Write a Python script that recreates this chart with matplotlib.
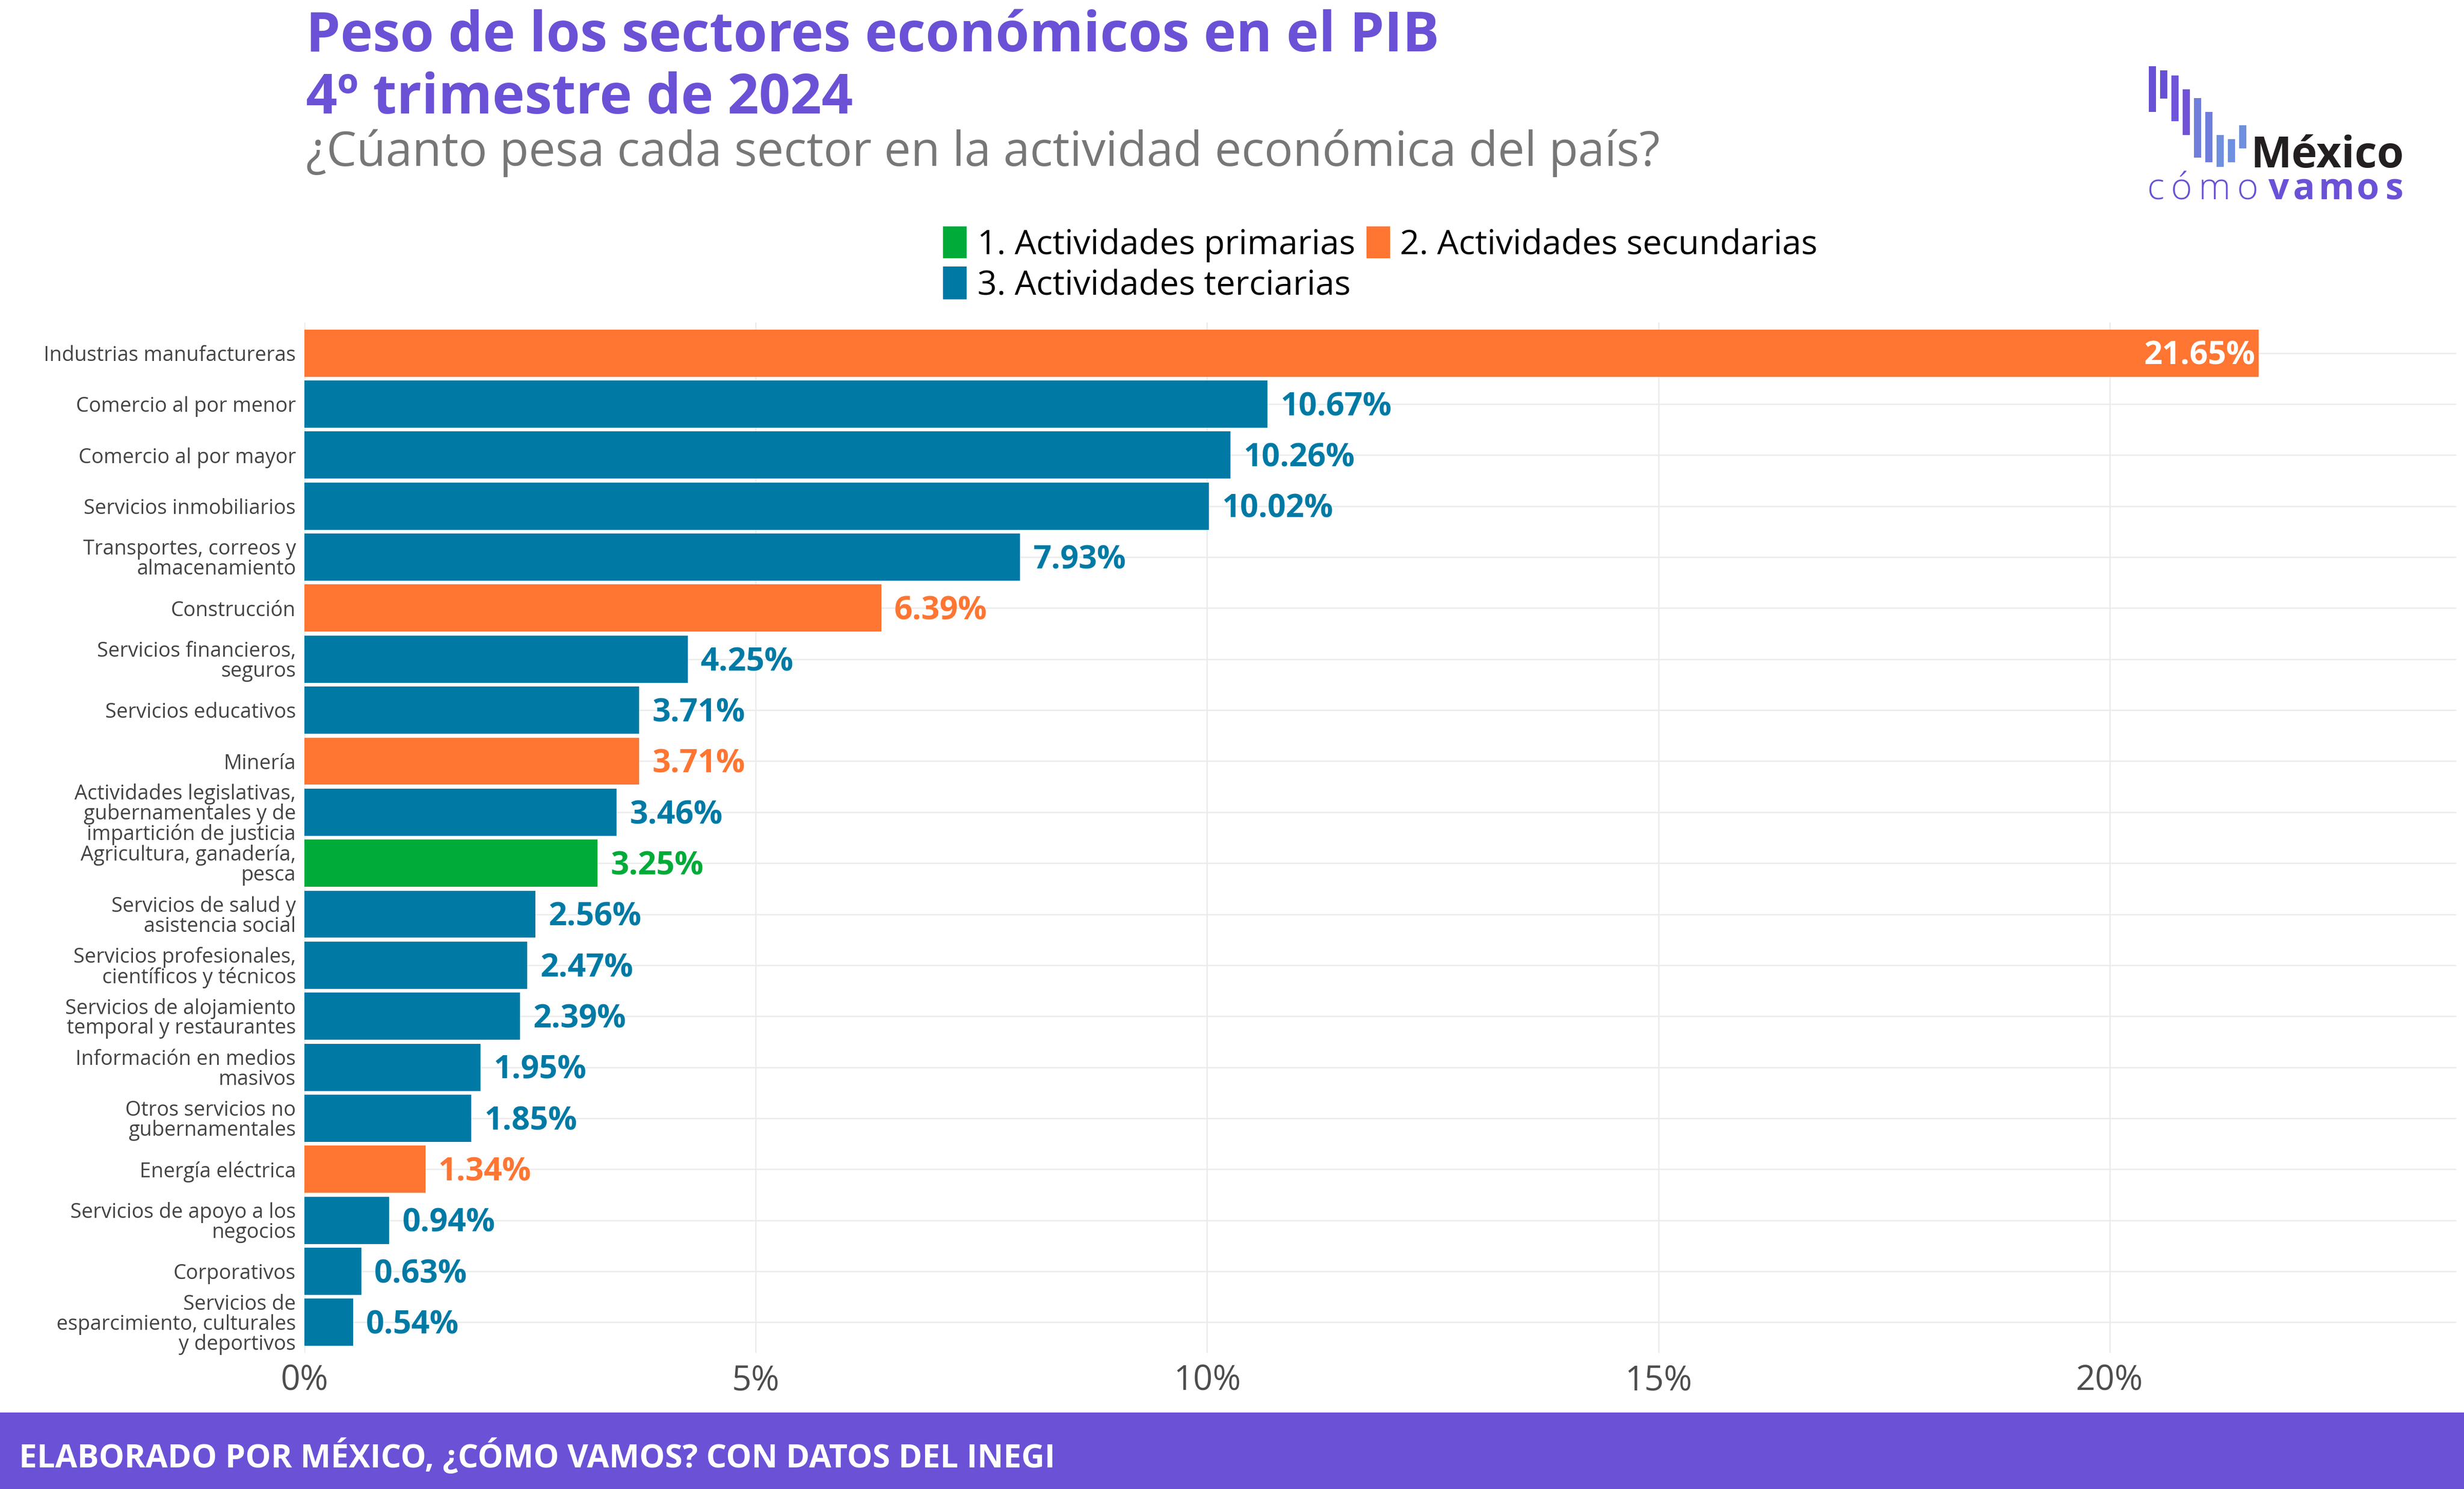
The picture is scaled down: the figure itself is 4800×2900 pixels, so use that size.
import matplotlib
matplotlib.use("Agg")
import matplotlib.pyplot as plt
from matplotlib import font_manager
from matplotlib.patches import Rectangle

# ---------------- data ----------------
sectores = [
    "Industrias manufactureras",
    "Comercio al por menor",
    "Comercio al por mayor",
    "Servicios inmobiliarios",
    "Transportes, correos y\nalmacenamiento",
    "Construcción",
    "Servicios financieros,\nseguros",
    "Servicios educativos",
    "Minería",
    "Actividades legislativas,\ngubernamentales y de\nimpartición de justicia",
    "Agricultura, ganadería,\npesca",
    "Servicios de salud y\nasistencia social",
    "Servicios profesionales,\ncientíficos y técnicos",
    "Servicios de alojamiento\ntemporal y restaurantes",
    "Información en medios\nmasivos",
    "Otros servicios no\ngubernamentales",
    "Energía eléctrica",
    "Servicios de apoyo a los\nnegocios",
    "Corporativos",
    "Servicios de\nesparcimiento, culturales\ny deportivos",
]
pesos = [21.65, 10.67, 10.26, 10.02, 7.93, 6.39, 4.25, 3.71, 3.71, 3.46,
         3.25, 2.56, 2.47, 2.39, 1.95, 1.85, 1.34, 0.94, 0.63, 0.54]
tipo = [2, 3, 3, 3, 3, 2, 3, 3, 2, 3, 1, 3, 3, 3, 3, 3, 2, 3, 3, 3]
grupos = ["1. Actividades primarias", "2. Actividades secundarias",
          "3. Actividades terciarias"]
xticks = [0, 5, 10, 15, 20]
xticklabels = ["0%", "5%", "10%", "15%", "20%"]

titulo1 = "Peso de los sectores económicos en el PIB"
titulo2 = "4º trimestre de 2024"
subtitulo = "¿Cúanto pesa cada sector en la actividad económica del país?"
pie = "ELABORADO POR MÉXICO, ¿CÓMO VAMOS? CON DATOS DEL INEGI"

# ---------------- style ----------------
colores = {1: "#00AB39", 2: "#FF7532", 3: "#007AA5"}
PURPLE = "#6B51D6"
plt.rcParams["font.family"] = ["Open Sans", "DejaVu Sans"]

W, H = 4800, 2900
fig = plt.figure(figsize=(16, 9.6667), dpi=300)
renderer = fig.canvas.get_renderer()


def fx(px):
    return px / W


def fy(py):
    return 1 - py / H


def fit(t, target_px):
    w = t.get_window_extent(renderer).width
    if w > 0:
        t.set_fontsize(t.get_fontsize() * target_px / w)


# ---------------- axes ----------------
left, right, top, bottom = 593, 4785, 628, 2635
ax = fig.add_axes([fx(left), fy(bottom), fx(right - left), (bottom - top) / H])
ypos = list(range(len(sectores)))
bar_colors = [colores[t] for t in tipo]
ax.barh(ypos, pesos, height=0.925, color=bar_colors, zorder=2)
ax.set_ylim(len(sectores) - 0.4, -0.6)
ax.set_xlim(0, 23.84)
ax.set_yticks(ypos)
ax.set_yticklabels(sectores, fontsize=10, color="#444444", linespacing=0.95)
ax.set_xticks(xticks)
ax.set_xticklabels(xticklabels, fontsize=16, color="#4D4D4D")
ax.tick_params(axis="both", length=0)
ax.tick_params(axis="y", pad=4)
ax.tick_params(axis="x", pad=5)
ax.grid(True, color="#EBEBEB", linewidth=0.6, zorder=0)
ax.set_axisbelow(True)
for s in ax.spines.values():
    s.set_visible(False)

# value labels
VFS = 15
for i, (v, t) in enumerate(zip(pesos, tipo)):
    txt = f"{v:.2f}%"
    if v > 20:
        ax.annotate(txt, (v, i), xytext=(-1.5, -0.357 * VFS), textcoords="offset points",
                    ha="right", va="baseline", fontsize=VFS, fontweight="bold",
                    color="white", zorder=3)
    else:
        ax.annotate(txt, (v, i), xytext=(6, -0.357 * VFS), textcoords="offset points",
                    ha="left", va="baseline", fontsize=VFS, fontweight="bold",
                    color=colores[t], zorder=3)

# ---------------- titles ----------------
t1 = fig.text(fx(596), fy(100), titulo1, fontsize=25, fontweight="bold",
              color=PURPLE, ha="left", va="baseline")
t2 = fig.text(fx(596), fy(221), titulo2, fontsize=25, fontweight="bold",
              color=PURPLE, ha="left", va="baseline")
t3 = fig.text(fx(596), fy(323), subtitulo, fontsize=22, color="#777777",
              ha="left", va="baseline")
fit(t1, 2207)
t2.set_fontsize(t1.get_fontsize())
fit(t3, 2640)

# ---------------- legend ----------------
leg_items = [
    (1837, 441, 503, 1904, 495, 737),
    (2662, 441, 503, 2727, 495, 815),
    (1837, 519, 583, 1904, 574, 737),
]
leg_texts = []
for k, (sx, sy0, sy1, tx, ty, tw) in enumerate(leg_items):
    fig.add_artist(Rectangle((fx(sx), fy(sy1)), fx(46), (sy1 - sy0) / H,
                             transform=fig.transFigure, color=colores[k + 1],
                             lw=0))
    lt = fig.text(fx(tx), fy(ty), grupos[k], fontsize=16, color="black",
                  ha="left", va="baseline")
    leg_texts.append((lt, tw))
fit(leg_texts[0][0], leg_texts[0][1])
for lt, _ in leg_texts[1:]:
    lt.set_fontsize(leg_texts[0][0].get_fontsize())

# ---------------- logo ----------------
logo_bars = [(129, 218), (137, 192), (147, 236), (174, 263), (191, 307),
             (218, 316), (263, 325), (271, 316), (244, 289)]
logo_cols = ["#6A52D6", "#6650D6", "#6F55DA", "#7052D8", "#717DDA",
             "#717DDA", "#6F8FDF", "#6F8FDF", "#6F8FDF"]
for k, (y0, y1) in enumerate(logo_bars):
    fig.add_artist(Rectangle((fx(4186 + 22 * k), fy(y1)), fx(14), (y1 - y0) / H,
                             transform=fig.transFigure, color=logo_cols[k], lw=0))
tm = fig.text(fx(4384), fy(326), "México", fontsize=26, fontweight="bold",
              color="#231F20", ha="left", va="baseline")
fit(tm, 299)
letters = list("cómovamos")
lx = [4200, 4250, 4314, 4379, 4439, 4488, 4551, 4613, 4665]
for k, (ch, x) in enumerate(zip(letters, lx)):
    fig.text(fx(x), fy(388), ch, fontsize=17,
             fontweight="light" if k < 4 else "bold",
             color=PURPLE, ha="center", va="baseline")

# ---------------- footer ----------------
fig.add_artist(Rectangle((0, 0), 1, (H - 2751) / H, transform=fig.transFigure,
                         color=PURPLE, lw=0))
names = {f.name for f in font_manager.fontManager.ttflist}
foot_family = ["Liberation Sans Narrow", "Open Sans", "DejaVu Sans"] \
    if "Liberation Sans Narrow" in names else ["Open Sans", "DejaVu Sans"]
tf = fig.text(fx(37), fy(2858), pie, fontsize=18, fontweight="bold",
              color="white", ha="left", va="baseline", family=foot_family)
fit(tf, 2020)

# fit tick labels: "Industrias manufactureras" ~492 px wide
fig.canvas.draw()
lab0 = ax.get_yticklabels()[0]
w0 = lab0.get_window_extent(renderer).width
if w0 > 0:
    ny = 10 * 492 / w0
    for lab in ax.get_yticklabels():
        lab.set_fontsize(ny)

fig.savefig("out.png", dpi=300)
